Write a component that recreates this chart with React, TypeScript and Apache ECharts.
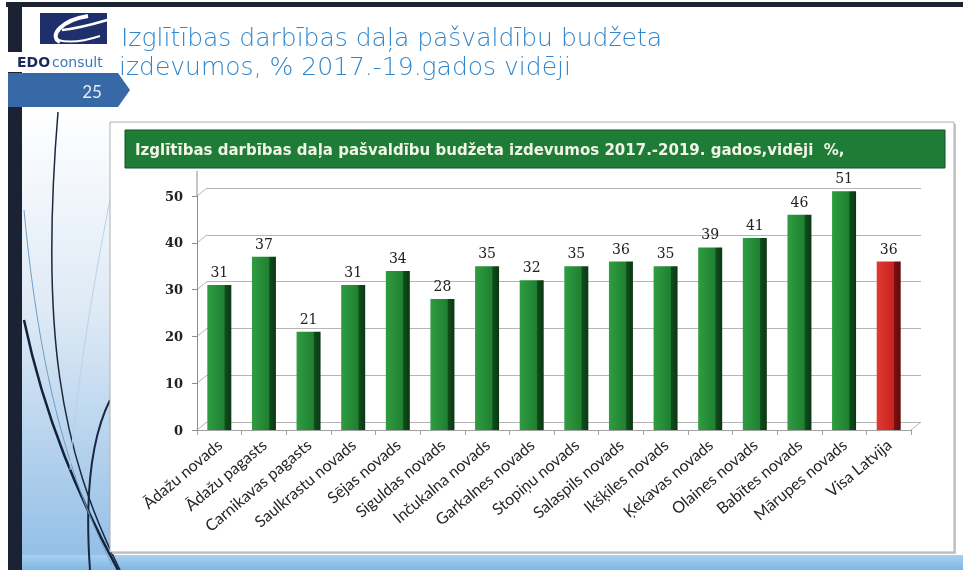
import React, { useEffect, useRef } from "react";
import * as echarts from "echarts";

const categories = [
  "Ādažu novads",
  "Ādažu pagasts",
  "Carnikavas pagasts",
  "Saulkrastu novads",
  "Sējas novads",
  "Siguldas novads",
  "Inčukalna novads",
  "Garkalnes novads",
  "Stopiņu novads",
  "Salaspils novads",
  "Ikšķiles novads",
  "Ķekavas novads",
  "Olaines novads",
  "Babītes novads",
  "Mārupes novads",
  "Visa Latvija",
];
const values = [31, 37, 21, 31, 34, 28, 35, 32, 35, 36, 35, 39, 41, 46, 51, 36];
const highlightCategory = "Visa Latvija";
const yTicks = [0, 10, 20, 30, 40, 50];
const slideTitleLines = [
  "Izglītības darbības daļa pašvaldību budžeta",
  "izdevumos, % 2017.-19.gados vidēji",
];
const chartTitle =
  "Izglītības darbības daļa pašvaldību budžeta izdevumos 2017.-2019. gados,vidēji  %,";
const slideNumber = "25";

const W = 963;
const H = 570;
// front plot geometry
const GL = 197;
const GR = 911;
const GT = 196;
const GB = 430;
// 3D depth offset for back wall
const DX = 10;
const DY = 8;

const greenFill = {
  type: "linear",
  x: 0,
  y: 0,
  x2: 1,
  y2: 0,
  colorStops: [
    { offset: 0, color: "#2f9d41" },
    { offset: 0.7, color: "#1f8031" },
    { offset: 0.74, color: "#104d1b" },
    { offset: 1, color: "#0b3713" },
  ],
};
const redFill = {
  type: "linear",
  x: 0,
  y: 0,
  x2: 1,
  y2: 0,
  colorStops: [
    { offset: 0, color: "#e03a33" },
    { offset: 0.7, color: "#c8231f" },
    { offset: 0.74, color: "#7e1010" },
    { offset: 1, color: "#5e0b0b" },
  ],
};

function App() {
  const ref = useRef<HTMLDivElement>(null);

  useEffect(() => {
    if (!ref.current) return;
    const chart = echarts.init(ref.current, null, { renderer: "svg" });

    const plotH = GB - GT;
    const connectors = yTicks.map((t) => {
      const y = GB - (t / 50) * plotH;
      return {
        type: "line",
        z: -1,
        shape: { x1: GL, y1: y, x2: GL + DX, y2: y - DY },
        style: { stroke: "#b5b5b5", lineWidth: 1 },
      };
    });

    const background: any[] = [
      { type: "rect", z: -20, shape: { x: 0, y: 0, width: W, height: H }, style: { fill: "#ffffff" } },
      // top dark frame line
      { type: "rect", z: -19, shape: { x: 6, y: 2, width: W - 6, height: 5 }, style: { fill: "#1d2230" } },
      // left dark bar
      { type: "rect", z: -19, shape: { x: 8, y: 2, width: 14, height: H - 2 }, style: { fill: "#1b2233" } },
      // left light-blue gradient panel
      {
        type: "rect",
        z: -18,
        shape: { x: 22, y: 108, width: 92, height: H - 108 },
        style: {
          fill: {
            type: "linear", x: 0, y: 0, x2: 0, y2: 1,
            colorStops: [
              { offset: 0, color: "#ffffff" },
              { offset: 0.45, color: "#dde9f5" },
              { offset: 1, color: "#8fbde6" },
            ],
          },
        },
      },
      // bottom blue band
      {
        type: "rect",
        z: -18,
        shape: { x: 22, y: 555, width: W - 22, height: 15 },
        style: {
          fill: {
            type: "linear", x: 0, y: 0, x2: 0, y2: 1,
            colorStops: [
              { offset: 0, color: "#a9d0ee" },
              { offset: 1, color: "#7fb6e4" },
            ],
          },
        },
      },
      // decorative curves
      { type: "bezierCurve", z: -17, shape: { x1: 58, y1: 112, x2: 120, y2: 570, cpx1: 40, cpy1: 330, cpx2: 60, cpy2: 450 }, style: { stroke: "#1a2740", lineWidth: 1.5, fill: null } },
      { type: "bezierCurve", z: -17, shape: { x1: 24, y1: 320, x2: 118, y2: 570, cpx1: 45, cpy1: 420, cpx2: 80, cpy2: 500 }, style: { stroke: "#15213a", lineWidth: 2.5, fill: null } },
      { type: "bezierCurve", z: -17, shape: { x1: 110, y1: 400, x2: 90, y2: 570, cpx1: 90, cpy1: 440, cpx2: 85, cpy2: 500 }, style: { stroke: "#1a2740", lineWidth: 2, fill: null } },
      { type: "bezierCurve", z: -17, shape: { x1: 24, y1: 210, x2: 112, y2: 565, cpx1: 40, cpy1: 380, cpx2: 70, cpy2: 480 }, style: { stroke: "#6f9cc7", lineWidth: 1, fill: null } },
      { type: "bezierCurve", z: -17, shape: { x1: 110, y1: 200, x2: 70, y2: 470, cpx1: 90, cpy1: 300, cpx2: 75, cpy2: 400 }, style: { stroke: "#b8d2ea", lineWidth: 1, fill: null } },
      // logo square
      { type: "rect", z: -16, shape: { x: 40, y: 13, width: 67, height: 31 }, style: { fill: "#1f2f6b" } },
      { type: "bezierCurve", z: -15, shape: { x1: 88, y1: 16, x2: 60, y2: 42, cpx1: 62, cpy1: 20, cpx2: 48, cpy2: 36 }, style: { stroke: "#ffffff", lineWidth: 4, fill: null } },
      { type: "bezierCurve", z: -15, shape: { x1: 62, y1: 30, x2: 114, y2: 18, cpx1: 82, cpy1: 28, cpx2: 100, cpy2: 22 }, style: { stroke: "#ffffff", lineWidth: 2.5, fill: null } },
      { type: "bezierCurve", z: -15, shape: { x1: 58, y1: 40, x2: 100, y2: 36, cpx1: 72, cpy1: 44, cpx2: 88, cpy2: 40 }, style: { stroke: "#ffffff", lineWidth: 2, fill: null } },
      // white strip behind company name
      { type: "rect", z: -16, shape: { x: 0, y: 52, width: 118, height: 20 }, style: { fill: "#ffffff" } },
      { type: "text", z: -15, style: { text: "EDO", x: 17, y: 62, fill: "#1b2a5c", font: "bold 14px 'DejaVu Sans'", verticalAlign: "middle" } },
      { type: "text", z: -15, style: { text: "consult", x: 52, y: 62, fill: "#3a78b8", font: "14px 'DejaVu Sans'", verticalAlign: "middle" } },
      // slide number tab
      {
        type: "polygon",
        z: -16,
        shape: { points: [[8, 73], [118, 73], [130, 90], [118, 107], [8, 107]] },
        style: { fill: "#3669a6" },
      },
      { type: "text", z: -15, style: { text: slideNumber, x: 92, y: 91, fill: "#e8eef6", font: "17px Lato", align: "center", verticalAlign: "middle" } },
      // slide title
      { type: "text", z: -15, style: { text: slideTitleLines[0], x: 121, y: 37, fill: "#2f86cc", font: "200 25px 'DejaVu Sans'", verticalAlign: "middle" } },
      { type: "text", z: -15, style: { text: slideTitleLines[1], x: 119, y: 66, fill: "#2f86cc", font: "200 25px 'DejaVu Sans'", verticalAlign: "middle" } },
      // chart box
      { type: "rect", z: -14, shape: { x: 112, y: 124, width: 844, height: 430 }, style: { fill: "#c9c9c9" } },
      { type: "rect", z: -13, shape: { x: 110, y: 122, width: 844, height: 430 }, style: { fill: "#ffffff", stroke: "#b0b0b0", lineWidth: 1 } },
      // green title box
      { type: "rect", z: -12, shape: { x: 125, y: 130, width: 820, height: 38 }, style: { fill: "#1f7c36", stroke: "#14522a", lineWidth: 1 } },
      { type: "text", z: -11, style: { text: chartTitle, x: 135, y: 150, fill: "#f2f5e6", font: "bold 15px 'DejaVu Sans'", verticalAlign: "middle" } },
      // y axis extension and floor right edge
      { type: "line", z: -1, shape: { x1: GL, y1: GT, x2: GL, y2: 171 }, style: { stroke: "#8c8c8c", lineWidth: 1 } },
      { type: "line", z: -1, shape: { x1: GR, y1: GB, x2: GR + DX, y2: GB - DY }, style: { stroke: "#b5b5b5", lineWidth: 1 } },
      ...connectors,
    ];

    chart.setOption({
      animation: false,
      backgroundColor: "transparent",
      graphic: background,
      grid: [
        { left: GL, right: W - GR, top: GT, bottom: H - GB, containLabel: false },
        { left: GL + DX, right: W - GR - DX, top: GT - DY, bottom: H - GB + DY, containLabel: false },
      ],
      xAxis: [
        {
          type: "category",
          gridIndex: 0,
          data: categories,
          axisLine: { show: true, lineStyle: { color: "#a0a0a0" } },
          axisTick: { show: true, alignWithLabel: false, length: 5, lineStyle: { color: "#a0a0a0" } },
          axisLabel: {
            rotate: 40,
            interval: 0,
            margin: 12,
            color: "#262626",
            fontFamily: "Lato",
            fontSize: 16,
          },
        },
        {
          type: "category",
          gridIndex: 1,
          data: categories,
          show: false,
        },
      ],
      yAxis: [
        {
          type: "value",
          gridIndex: 0,
          min: 0,
          max: 50,
          interval: 10,
          axisLine: { show: true, lineStyle: { color: "#8c8c8c" } },
          axisTick: { show: true, length: 5, lineStyle: { color: "#8c8c8c" } },
          splitLine: { show: false },
          axisLabel: {
            margin: 14,
            color: "#222",
            fontFamily: "'DejaVu Serif'",
            fontWeight: "bold",
            fontSize: 13,
          },
        },
        {
          type: "value",
          gridIndex: 1,
          min: 0,
          max: 50,
          interval: 10,
          axisLine: { show: false },
          axisTick: { show: false },
          axisLabel: { show: false },
          splitLine: { show: true, lineStyle: { color: "#b5b5b5", width: 1 } },
        },
      ],
      series: [
        {
          type: "bar",
          xAxisIndex: 0,
          yAxisIndex: 0,
          clip: false,
          barWidth: 24,
          data: categories.map((c, i) => ({
            value: values[i],
            itemStyle: { color: c === highlightCategory ? redFill : greenFill },
          })),
          label: {
            show: true,
            position: "top",
            distance: 6,
            color: "#222",
            fontFamily: "'DejaVu Serif'",
            fontSize: 14,
          },
          z: 3,
        },
      ],
    });

    return () => chart.dispose();
  }, []);

  return (
    <div
      ref={ref}
      style={{ position: "fixed", left: 0, top: 0, width: W, height: H }}
    />
  );
}

export default App;
